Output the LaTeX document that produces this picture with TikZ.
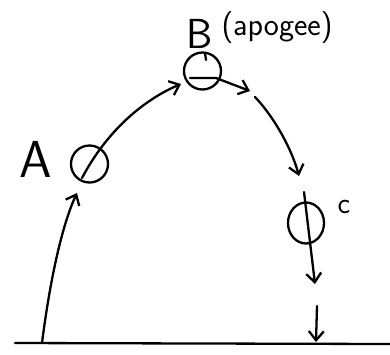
\documentclass[tikz,border=0pt]{standalone}
\usetikzlibrary{arrows.meta,shapes.geometric}
\begin{document}
\begin{tikzpicture}[x=1pt,y=-1pt,
  stroke/.style={line width=2.3pt,line cap=round,line join=round},
  ball/.style={stroke,draw,circle,minimum size=37pt,inner sep=0pt},
  oval/.style={stroke,draw,ellipse,minimum width=36pt,minimum height=41pt,inner sep=0pt},
  tip/.style={-{Straight Barb[length=9pt,width=15pt,line width=2.3pt]}},
  lbl/.style={font=\sffamily,inner sep=0pt}]
\useasboundingbox (0,0) rectangle (390,354);
% ground
\coordinate (g0) at (15,343);
\coordinate (g1) at (390,344);
\draw[stroke] (g0) -- (g1);
% balls
\node[ball] (ca) at (89.5,164) {};
\node[ball] (cb) at (202.5,71) {};
\node[oval] (cc) at (306,223) {};
% labels
\node[lbl,font=\sffamily\fontsize{52}{52}\selectfont] (la) at (36,159) {A};
\node[lbl,font=\sffamily\fontsize{42}{42}\selectfont] (lb) at (200,34) {B};
\node[lbl,font=\sffamily\fontsize{32}{32}\selectfont] (lap) at (277,28) {(apogee)};
\node[lbl,font=\sffamily\fontsize{30}{30}\selectfont] (lc) at (344,207) {c};
% launch arrow
\coordinate (s0) at (42,343);
\coordinate (s1) at (77,193);
\draw[stroke,tip] (s0) .. controls (50,280) and (62,225) .. (s1);
% A to B
\coordinate (a0) at (82,178);
\coordinate (a1) at (181,84);
\draw[stroke,tip] (a0) .. controls (110,125) and (150,97) .. (a1);
% inside B
\coordinate (b0) at (190,78);
\coordinate (b1) at (250,91);
\draw[stroke,tip] (b0) -- (216,78) -- (b1);
\coordinate (bt0) at (205,53);
\coordinate (bt1) at (206,60);
\draw[stroke] (bt0) -- (bt1);
% B to C
\coordinate (d0) at (255,97);
\coordinate (d1) at (299,176);
\draw[stroke,tip] (d0) .. controls (275,118) and (292,150) .. (d1);
% through C
\coordinate (e0) at (304,192);
\coordinate (e1) at (315,284);
\draw[stroke,tip] (e0) -- (e1);
% final drop
\coordinate (f0) at (317,306);
\coordinate (f1) at (316,342);
\draw[stroke,tip] (f0) -- (f1);
\end{tikzpicture}
\end{document}
